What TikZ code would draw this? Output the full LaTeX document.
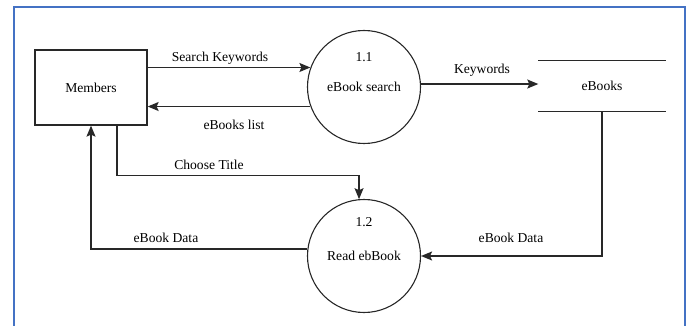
\documentclass[tikz,border=0pt]{standalone}
\usepackage{fontspec}
\setmainfont{Liberation Serif}
\usetikzlibrary{arrows.meta,calc}
\definecolor{frameblue}{RGB}{68,114,196}
\definecolor{ink}{RGB}{40,40,40}
\begin{document}
\begin{tikzpicture}[x=1pt,y=-1pt,
  every node/.style={font=\fontsize{13.6}{15}\selectfont, text=black},
  flow/.style={draw=ink, line width=1.3pt, -{Stealth[length=11pt,width=9pt,inset=2pt]}},
  entity/.style={draw=ink, line width=1.3pt, minimum width=112pt, minimum height=75pt},
  proc/.style={draw=ink, line width=1.1pt, circle, minimum size=113pt, inner sep=0pt},
  storebox/.style={minimum width=127pt, minimum height=50pt},
  lbl/.style={inner sep=1pt}]
\useasboundingbox (0,0) rectangle (688,326);
\draw[frameblue, line width=2.8pt] (14,340) -- (14,7) -- (685,7) -- (685,340);

\node[entity] (members) at (91,87.5) {Members};
\node[proc] (p11) at (364,87) {eBook search};
\node[lbl] (n11) at (364,57) {1.1};
\node[proc] (p12) at (364,256) {Read ebBook};
\node[lbl] (n12) at (364,222) {1.2};
\node[storebox] (store) at (602,86) {eBooks};
\draw[ink, line width=1.3pt] (store.north west) -- (store.north east);
\draw[ink, line width=1.3pt] (store.south west) -- (store.south east);

\draw[flow] (members.east |- p11.160) -- (p11.160);
\draw[flow] (p11.200) -- (members.east |- p11.200);
\draw[flow] (p11.3) -- (store.west |- p11.3);
\draw[flow] (store.south) |- (p12.east);
\draw[flow] ([xshift=26pt]members.south) -- ++(0,50) -| (p12.95);
\draw[flow] (p12.173) -| (members.south);

\node[lbl] (l1) at (220,58) {Search Keywords};
\node[lbl] (l2) at (234,125) {eBooks list};
\node[lbl] (l3) at (482,70) {Keywords};
\node[lbl] (l4) at (209,165) {Choose Title};
\node[lbl] (l5) at (166,238) {eBook Data};
\node[lbl] (l6) at (511,238) {eBook Data};
\end{tikzpicture}
\end{document}
